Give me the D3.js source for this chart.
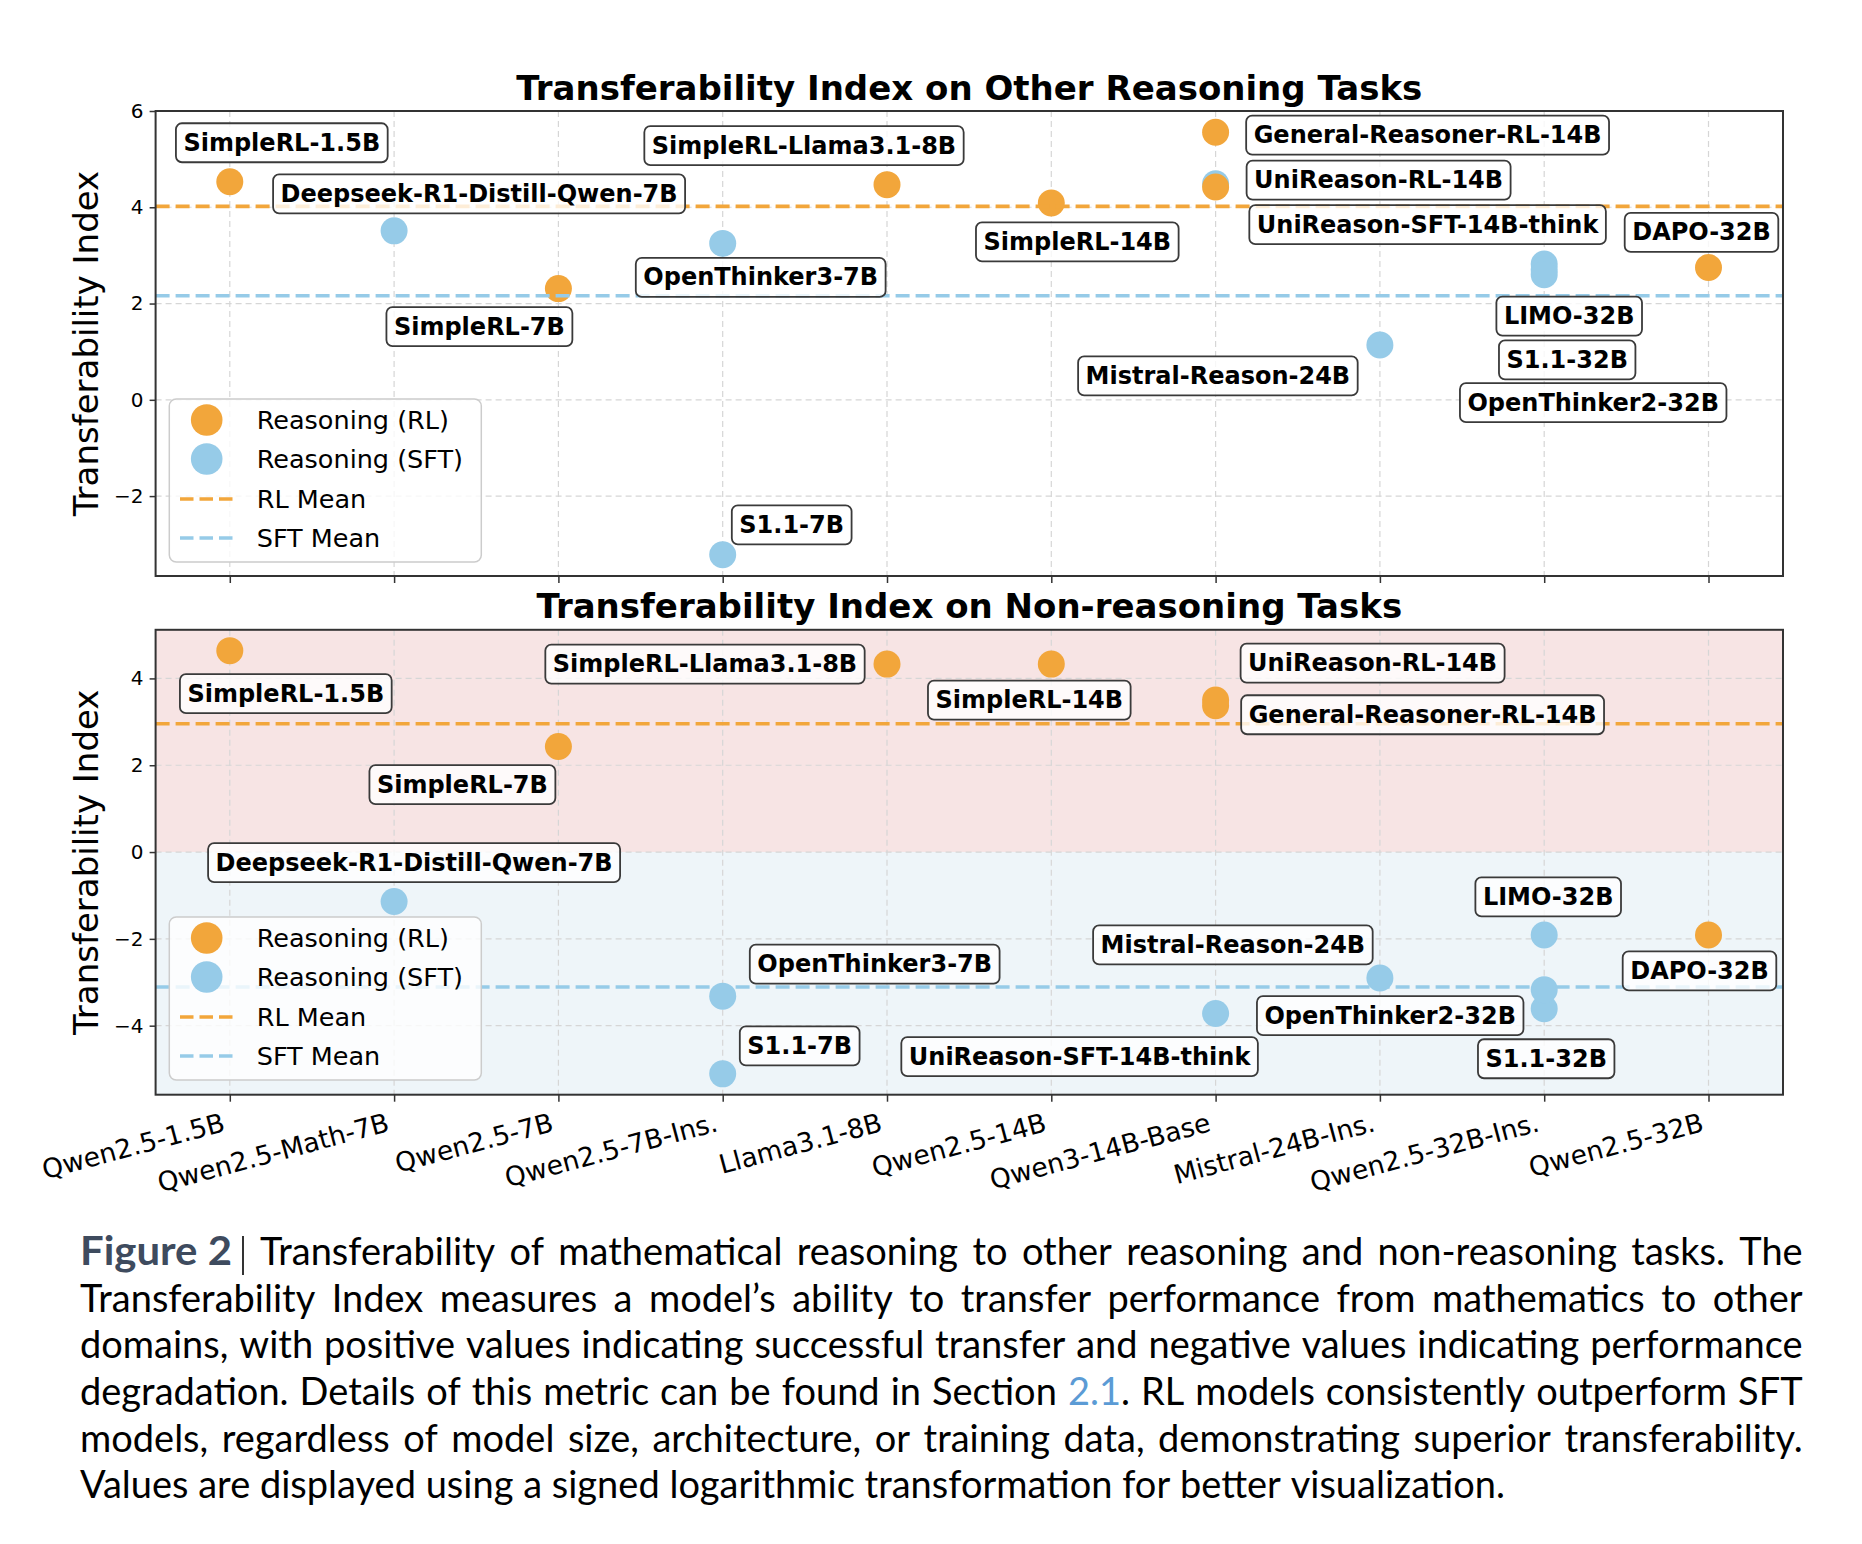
<!DOCTYPE html>
<html><head><meta charset="utf-8">
<script src="https://cdn.jsdelivr.net/npm/d3@7"></script>
<style>body{margin:0;background:#fff}</style>
</head><body>
<svg id="fig" width="1862" height="1544" xmlns="http://www.w3.org/2000/svg"></svg>
<script>
// ---------------- data ----------------
const baseModels = ["Qwen2.5-1.5B","Qwen2.5-Math-7B","Qwen2.5-7B","Qwen2.5-7B-Ins.","Llama3.1-8B","Qwen2.5-14B","Qwen3-14B-Base","Mistral-24B-Ins.","Qwen2.5-32B-Ins.","Qwen2.5-32B"];
const modelNames = ["SimpleRL-1.5B","Deepseek-R1-Distill-Qwen-7B","SimpleRL-7B","OpenThinker3-7B","S1.1-7B","SimpleRL-Llama3.1-8B","SimpleRL-14B","General-Reasoner-RL-14B","UniReason-RL-14B","UniReason-SFT-14B-think","Mistral-Reason-24B","LIMO-32B","S1.1-32B","OpenThinker2-32B","DAPO-32B"];
const modelBase = ["Qwen2.5-1.5B","Qwen2.5-Math-7B","Qwen2.5-7B","Qwen2.5-7B-Ins.","Qwen2.5-7B-Ins.","Llama3.1-8B","Qwen2.5-14B","Qwen3-14B-Base","Qwen3-14B-Base","Qwen3-14B-Base","Mistral-24B-Ins.","Qwen2.5-32B-Ins.","Qwen2.5-32B-Ins.","Qwen2.5-32B-Ins.","Qwen2.5-32B"];
const modelType = ["RL","SFT","RL","SFT","SFT","RL","RL","RL","RL","SFT","SFT","SFT","SFT","SFT","RL"];
const otherReasoning = [4.53,3.51,2.31,3.25,-3.22,4.47,4.09,5.56,4.42,4.49,1.14,2.82,2.70,2.60,2.75];
const nonReasoning   = [4.64,-1.14,2.43,-3.32,-5.11,4.33,4.33,3.37,3.50,-3.72,-2.90,-1.91,-3.61,-3.17,-1.91];
const yTicksTop = [-2,0,2,4,6];
const yTicksBottom = [-4,-2,0,2,4];
const legendLabels = ["Reasoning (RL)","Reasoning (SFT)","RL Mean","SFT Mean"];
const panelTitles = ["Transferability Index on Other Reasoning Tasks","Transferability Index on Non-reasoning Tasks"];
const yAxisLabel = "Transferability Index";
const captionLead = "Figure 2";
const captionLines = [
 "Transferability of mathematical reasoning to other reasoning and non-reasoning tasks. The",
 "Transferability Index measures a model\u2019s ability to transfer performance from mathematics to other",
 "domains, with positive values indicating successful transfer and negative values indicating performance",
 "degradation. Details of this metric can be found in Section 2.1. RL models consistently outperform SFT",
 "models, regardless of model size, architecture, or training data, demonstrating superior transferability.",
 "Values are displayed using a signed logarithmic transformation for better visualization."
];

// ---------------- layout (label box offsets in px from their point) ----------------
const labelOffsetTop = [[52,-39],[85,-37],[-79,38],[38,34],[69,-30],[-83,-39],[26,39],[212,3],[163,-7],[212,41],[-162,31],[25,52],[23,90],[49,128],[-7,-35]];
const labelOffsetBottom = [[56,43],[20,-39],[-96,38],[152,-32],[77,-28],[-182,0],[-22,36],[207,9],[157,-37],[-136,43],[-147,-33],[4,-38],[2,50],[-154,26],[-9,36]];

const FONT = "'DejaVu Sans', sans-serif";
const ORANGE = "#f2a63b", BLUE = "#96cbe8";
const xLeft = 155.6, xRight = 1783;

const panels = [
 {title: panelTitles[0], values: otherReasoning, top: 111, bottom: 576, domain: [-3.66, 6.0], ticks: yTicksTop, offsets: labelOffsetTop, titleY: 100.3, bands: false, legendTop: 399, xLabels: false},
 {title: panelTitles[1], values: nonReasoning, top: 629.8, bottom: 1094.7, domain: [-5.59, 5.12], ticks: yTicksBottom, offsets: labelOffsetBottom, titleY: 618.3, bands: true, legendTop: 917, xLabels: true}
];

const svg = d3.select("#fig");
svg.append("rect").attr("width",1862).attr("height",1544).attr("fill","#fff");

const x = d3.scalePoint().domain(baseModels).range([229.8, 1708.5]);

panels.forEach(p => {
  const y = d3.scaleLinear().domain(p.domain).range([p.bottom, p.top]);
  const g = svg.append("g");
  if (p.bands) {
    g.append("rect").attr("x", xLeft).attr("width", xRight - xLeft).attr("y", p.top).attr("height", y(0) - p.top).attr("fill", "#f7e4e4");
    g.append("rect").attr("x", xLeft).attr("width", xRight - xLeft).attr("y", y(0)).attr("height", p.bottom - y(0)).attr("fill", "#eef5f9");
  }
  // grid
  g.append("g").selectAll("line").data(baseModels).join("line")
    .attr("x1", d => x(d)).attr("x2", d => x(d)).attr("y1", p.top).attr("y2", p.bottom)
    .attr("stroke", "#d6d6d6").attr("stroke-width", 1.2).attr("stroke-dasharray", "6,4");
  g.append("g").selectAll("line").data(p.ticks).join("line")
    .attr("x1", xLeft).attr("x2", xRight).attr("y1", d => y(d)).attr("y2", d => y(d))
    .attr("stroke", "#d6d6d6").attr("stroke-width", 1.2).attr("stroke-dasharray", "6,4");

  const pts = modelNames.map((n, i) => ({name: n, base: modelBase[i], type: modelType[i], v: p.values[i], off: p.offsets[i]}));
  ["SFT", "RL"].forEach(t => {
    g.append("g").selectAll("circle").data(pts.filter(d => d.type === t)).join("circle")
      .attr("cx", d => x(d.base)).attr("cy", d => y(d.v)).attr("r", 13.5)
      .attr("fill", t === "RL" ? ORANGE : BLUE);
  });
  const rlMean = d3.mean(pts.filter(d => d.type === "RL"), d => d.v);
  const sftMean = d3.mean(pts.filter(d => d.type === "SFT"), d => d.v);
  [[rlMean, ORANGE], [sftMean, BLUE]].forEach(([m, c]) => {
    g.append("line").attr("x1", xLeft).attr("x2", xRight).attr("y1", y(m)).attr("y2", y(m))
      .attr("stroke", c).attr("stroke-width", 3.6).attr("stroke-dasharray", "14,6");
  });

  // annotation labels
  pts.forEach(d => {
    const cx = x(d.base) + d.off[0], cy = y(d.v) + d.off[1];
    const lg = g.append("g");
    const rect = lg.append("rect");
    const t = lg.append("text").attr("x", cx).attr("y", cy).attr("text-anchor", "middle")
      .attr("dominant-baseline", "central").attr("font-family", FONT).attr("font-weight", "bold")
      .attr("font-size", 24).attr("fill", "#000").text(d.name);
    const w = t.node().getComputedTextLength();
    rect.attr("x", cx - w / 2 - 7.5).attr("y", cy - 19.5).attr("width", w + 15).attr("height", 39)
      .attr("rx", 6).attr("fill", "#fff").attr("fill-opacity", 0.8)
      .attr("stroke", "#3a3a3a").attr("stroke-width", 1.8);
  });

  // frame
  g.append("rect").attr("x", xLeft).attr("y", p.top).attr("width", xRight - xLeft).attr("height", p.bottom - p.top)
    .attr("fill", "none").attr("stroke", "#333").attr("stroke-width", 2);

  // y axis
  const ya = g.append("g").attr("transform", `translate(${xLeft},0)`)
    .call(d3.axisLeft(y).tickValues(p.ticks).tickSize(6).tickPadding(6).tickSizeOuter(0));
  ya.select(".domain").remove();
  ya.selectAll("line").attr("stroke", "#333").attr("stroke-width", 1.5);
  ya.selectAll("text").attr("font-family", FONT).attr("font-size", 20).attr("fill", "#000");

  // x axis
  const xa = g.append("g").attr("transform", `translate(0,${p.bottom})`)
    .call(d3.axisBottom(x).tickSize(7).tickSizeOuter(0));
  xa.select(".domain").remove();
  xa.selectAll("line").attr("stroke", "#333").attr("stroke-width", 1.5);
  if (p.xLabels) {
    xa.selectAll("text").attr("font-family", FONT).attr("font-size", 26.5).attr("fill", "#000")
      .attr("text-anchor", "end").attr("x", 0).attr("y", 0).attr("dy", 0)
      .attr("transform", "translate(-4,36) rotate(-15)");
  } else {
    xa.selectAll("text").remove();
  }

  // title
  g.append("text").attr("x", (xLeft + xRight) / 2).attr("y", p.titleY).attr("text-anchor", "middle")
    .attr("font-family", FONT).attr("font-weight", "bold").attr("font-size", 34).text(p.title);
  // y label
  const cyL = (p.top + p.bottom) / 2;
  g.append("text").attr("transform", `translate(98,${cyL}) rotate(-90)`).attr("text-anchor", "middle")
    .attr("font-family", FONT).attr("font-size", 34).text(yAxisLabel);

  // legend
  const lgd = g.append("g").attr("transform", `translate(169.3,${p.legendTop})`);
  lgd.append("rect").attr("width", 312).attr("height", 163).attr("rx", 7)
    .attr("fill", "#fff").attr("fill-opacity", 0.8).attr("stroke", "#cccccc").attr("stroke-width", 1.5);
  const rows = [21, 60, 100, 139];
  legendLabels.forEach((lab, i) => {
    const c = (i % 2 === 0) ? ORANGE : BLUE;
    if (i < 2) {
      lgd.append("circle").attr("cx", 37.4).attr("cy", rows[i]).attr("r", 15.8).attr("fill", c);
    } else {
      lgd.append("line").attr("x1", 10.7).attr("x2", 63.4).attr("y1", rows[i]).attr("y2", rows[i])
        .attr("stroke", c).attr("stroke-width", 3.6).attr("stroke-dasharray", "13.5,6");
    }
    lgd.append("text").attr("x", 87.4).attr("y", rows[i]).attr("dominant-baseline", "central")
      .attr("font-family", FONT).attr("font-size", 25.5).text(lab);
  });
});

// ---------------- caption ----------------
const CAP_FONT = "Lato, 'Open Sans', sans-serif";
const capSize = 38.5;
const capLeft = 80, capWidth = 1722.7, lastLineWidth = 1425;
const baselines = captionLines.map((_, i) => 1265 + i * 46.7);
const cap = svg.append("g");

function measure(str, bold) {
  const t = cap.append("text").attr("font-family", CAP_FONT).attr("font-size", capSize)
    .attr("font-weight", bold ? "bold" : "normal").text(str);
  const w = t.node().getComputedTextLength();
  t.remove();
  return w;
}
const spaceW = measure("a a") - measure("aa");
const lastWords = captionLines[5].split(" ");
const lastNatural = d3.sum(lastWords, w => measure(w)) + spaceW * (lastWords.length - 1);
const s = lastLineWidth / lastNatural;
const target = capWidth / s;

const capInner = cap.append("g").attr("transform", `translate(${capLeft},0) scale(${s},1)`);
captionLines.forEach((line, li) => {
  const words = line.split(" ");
  let xPos = 0;
  let fixed = 0;
  if (li === 0) {
    const leadW = 152 / s;
    capInner.append("text").attr("x", 0).attr("y", baselines[0])
      .attr("font-family", CAP_FONT).attr("font-size", capSize * 1.06).attr("font-weight", "bold")
      .attr("fill", "#3e4b5e").attr("textLength", leadW).attr("lengthAdjust", "spacingAndGlyphs")
      .text(captionLead);
    const barX = 163 / s;
    capInner.append("line").attr("x1", barX).attr("x2", barX)
      .attr("y1", baselines[0] - 29).attr("y2", baselines[0] + 10)
      .attr("stroke", "#000").attr("stroke-width", 1.6 / s);
    xPos = 180 / s;
    fixed = xPos;
  }
  const widths = words.map(w => measure(w));
  const total = d3.sum(widths);
  const gap = (li === captionLines.length - 1) ? spaceW : (target - fixed - total) / (words.length - 1);
  words.forEach((w, wi) => {
    const t = capInner.append("text").attr("x", xPos).attr("y", baselines[li])
      .attr("font-family", CAP_FONT).attr("font-size", capSize).attr("fill", "#000");
    if (w === "2.1.") {
      t.append("tspan").attr("fill", "#5b9bd5").text("2.1");
      t.append("tspan").text(".");
    } else {
      t.text(w);
    }
    xPos += widths[wi] + gap;
  });
});
</script>
</body></html>
